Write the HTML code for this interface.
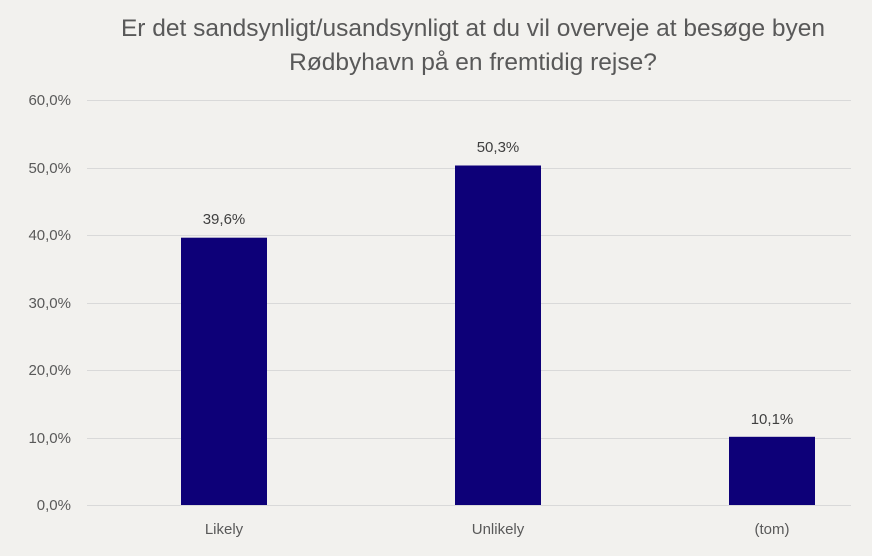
<!DOCTYPE html>
<html><head><style>html,body{margin:0;padding:0;background:#f2f1ee;overflow:hidden;width:872px;height:556px;}svg{display:block}</style></head>
<body>
<svg width="872" height="556" xmlns="http://www.w3.org/2000/svg" font-family="Liberation Sans, sans-serif">
<rect width="872" height="556" fill="#f2f1ee"/>
<text x="473" y="36" text-anchor="middle" font-size="24.5" fill="#595959">Er det sandsynligt/usandsynligt at du vil overveje at besøge byen</text>
<text x="473" y="70" text-anchor="middle" font-size="24.5" fill="#595959">Rødbyhavn på en fremtidig rejse?</text>
<g stroke="#d9d9d9" stroke-width="1">
<line x1="87" x2="851" y1="100.5" y2="100.5"/>
<line x1="87" x2="851" y1="168.5" y2="168.5"/>
<line x1="87" x2="851" y1="235.5" y2="235.5"/>
<line x1="87" x2="851" y1="303.5" y2="303.5"/>
<line x1="87" x2="851" y1="370.5" y2="370.5"/>
<line x1="87" x2="851" y1="438.5" y2="438.5"/>
<line x1="87" x2="851" y1="505.5" y2="505.5"/>
</g>
<g font-size="15" fill="#595959" text-anchor="end">
<text x="71" y="105">60,0%</text>
<text x="71" y="173">50,0%</text>
<text x="71" y="240">40,0%</text>
<text x="71" y="308">30,0%</text>
<text x="71" y="375">20,0%</text>
<text x="71" y="443">10,0%</text>
<text x="71" y="510">0,0%</text>
</g>
<g fill="#0d0078">
<rect x="181" y="237.7" width="86" height="267.3"/>
<rect x="455" y="165.5" width="86" height="339.5"/>
<rect x="729" y="436.8" width="86" height="68.2"/>
</g>
<g font-size="15" fill="#404040" text-anchor="middle">
<text x="224" y="224">39,6%</text>
<text x="498" y="152">50,3%</text>
<text x="772" y="424">10,1%</text>
</g>
<g font-size="15" fill="#595959" text-anchor="middle">
<text x="224" y="534">Likely</text>
<text x="498" y="534">Unlikely</text>
<text x="772" y="534">(tom)</text>
</g>
</svg>
</body></html>
